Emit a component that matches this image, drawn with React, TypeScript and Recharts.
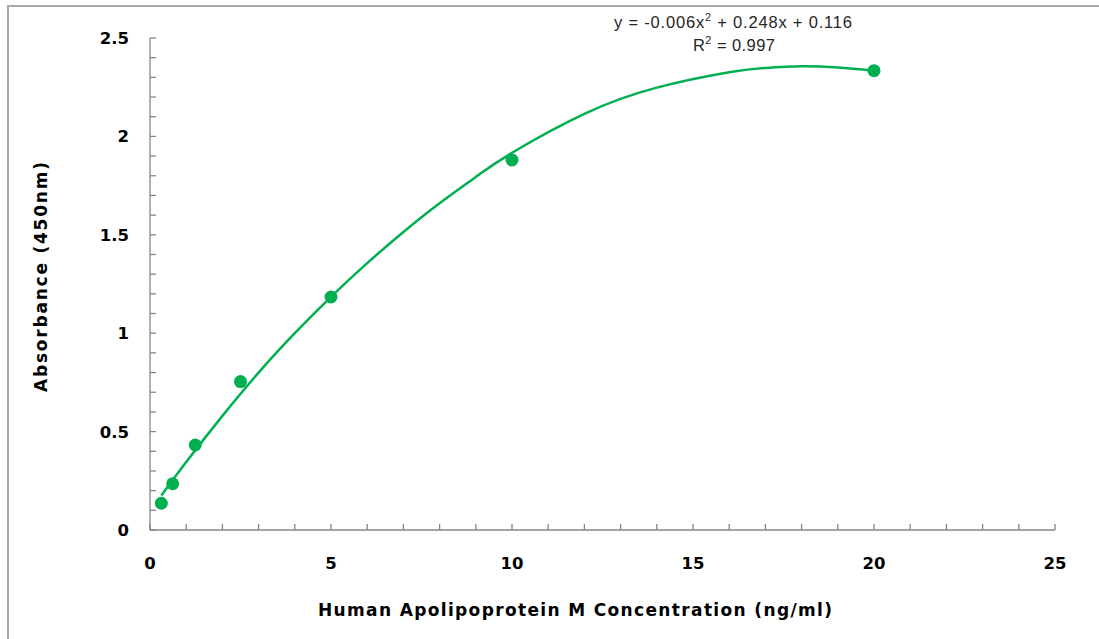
import { ComposedChart, Line, Scatter, XAxis, YAxis } from 'recharts'

/* standard points (ng/ml vs OD450) */
const concentrations = [0.3125, 0.625, 1.25, 2.5, 5, 10, 20]
const absorbances = [0.136, 0.235, 0.432, 0.754, 1.184, 1.88, 2.334]

/* polynomial trendline */
const fitX = [0.3125, 1, 2, 3, 4, 5, 6, 7, 8, 9, 10, 12, 14, 16, 17, 18, 19, 20]
const fitY = [0.175, 0.345, 0.58, 0.8, 1.0, 1.185, 1.356, 1.514, 1.66, 1.794, 1.917, 2.115, 2.248, 2.326, 2.348, 2.356, 2.35, 2.334]

const xTicks = [0, 1, 2, 3, 4, 5, 6, 7, 8, 9, 10, 11, 12, 13, 14, 15, 16, 17, 18, 19, 20, 21, 22, 23, 24, 25]
const xLabels = [0, 5, 10, 15, 20, 25]
const yTicks = [0, 0.1, 0.2, 0.3, 0.4, 0.5, 0.6, 0.7, 0.8, 0.9, 1, 1.1, 1.2, 1.3, 1.4, 1.5, 1.6, 1.7, 1.8, 1.9, 2, 2.1, 2.2, 2.3, 2.4, 2.5]
const yLabels = [0, 0.5, 1, 1.5, 2, 2.5]

const points = concentrations.map((x, i) => ({ x, y: absorbances[i] }))
const fit = fitX.map((x, i) => ({ x, y: fitY[i] }))

const GREEN = '#00b050'
const AXIS = '#868686'
const BOLD = '"DejaVu Sans", Arial, sans-serif'
const PLAIN = '"Liberation Sans", Arial, sans-serif'

const tickText = {
  fontFamily: BOLD,
  fontSize: 16.5,
  fontWeight: 700,
  fill: '#000',
}

function XTick(props: any) {
  const { x, y, payload } = props
  const v = payload.value
  return (
    <g>
      <line x1={x} y1={y} x2={x} y2={y - 6} stroke={AXIS} strokeWidth={1.3} />
      {xLabels.includes(v) && (
        <text x={x} y={y + 39} textAnchor="middle" {...tickText}>{v}</text>
      )}
    </g>
  )
}

function YTick(props: any) {
  const { x, y, payload } = props
  const v = Math.round(payload.value * 10) / 10
  return (
    <g>
      <line x1={x} y1={y} x2={x + 6} y2={y} stroke={AXIS} strokeWidth={1.3} />
      {yLabels.includes(v) && (
        <text x={x - 21} y={y} dy="0.36em" textAnchor="end" {...tickText}>{v}</text>
      )}
    </g>
  )
}

export default function App() {
  return (
    <div style={{ position: 'absolute', left: 0, top: 0, width: 1099, height: 639, background: '#fff', overflow: 'hidden' }}>
      <div style={{
        position: 'absolute', left: 7, top: 5, right: 0, bottom: 0,
        borderTop: '2px solid #a8a8a8', borderLeft: '2px solid #a8a8a8',
      }} />
      <ComposedChart
        width={1099}
        height={639}
        data={fit}
        margin={{ top: 38, right: 44, bottom: 79, left: 90 }}
        style={{ position: 'absolute', left: 0, top: 0 }}
      >
        <XAxis
          dataKey="x"
          type="number"
          domain={[0, 25]}
          ticks={xTicks}
          interval={0}
          height={30}
          tickSize={0}
          tickMargin={0}
          tickLine={false}
          axisLine={{ stroke: AXIS, strokeWidth: 1.3 }}
          tick={XTick}
        />
        <YAxis
          type="number"
          domain={[0, 2.5]}
          ticks={yTicks}
          interval={0}
          width={60}
          tickSize={0}
          tickMargin={0}
          tickLine={false}
          axisLine={{ stroke: AXIS, strokeWidth: 1.3 }}
          tick={YTick}
        />
        <Line
          dataKey="y"
          type="natural"
          stroke={GREEN}
          strokeWidth={2.5}
          dot={false}
          activeDot={false}
          isAnimationActive={false}
        />
        <Scatter
          data={points}
          dataKey="y"
          fill={GREEN}
          isAnimationActive={false}
          shape={(p: any) => <circle cx={p.cx} cy={p.cy} r={6.5} fill={GREEN} />}
        />
      </ComposedChart>
      <svg width={1099} height={639} style={{ position: 'absolute', left: 0, top: 0, pointerEvents: 'none' }}>
        <text
          transform="translate(41,277) rotate(-90)"
          textAnchor="middle"
          dy="0.36em"
          fontFamily={BOLD}
          fontSize={17}
          fontWeight={700}
          textLength={230}
        >
          Absorbance (450nm)
        </text>
        <text x={575} y={616} textAnchor="middle" fontFamily={BOLD} fontSize={17} fontWeight={700} textLength={514}>
          Human Apolipoprotein M Concentration (ng/ml)
        </text>
        <text x={733} y={28} textAnchor="middle" fontFamily={PLAIN} fontSize={16.5} fill="#262626" textLength={238}>
          y = -0.006x<tspan dy={-7} fontSize={11}>2</tspan><tspan dy={7}> + 0.248x + 0.116</tspan>
        </text>
        <text x={734} y={51} textAnchor="middle" fontFamily={PLAIN} fontSize={16.5} fill="#262626" textLength={82}>
          R<tspan dy={-7} fontSize={11}>2</tspan><tspan dy={7}> = 0.997</tspan>
        </text>
      </svg>
    </div>
  )
}
